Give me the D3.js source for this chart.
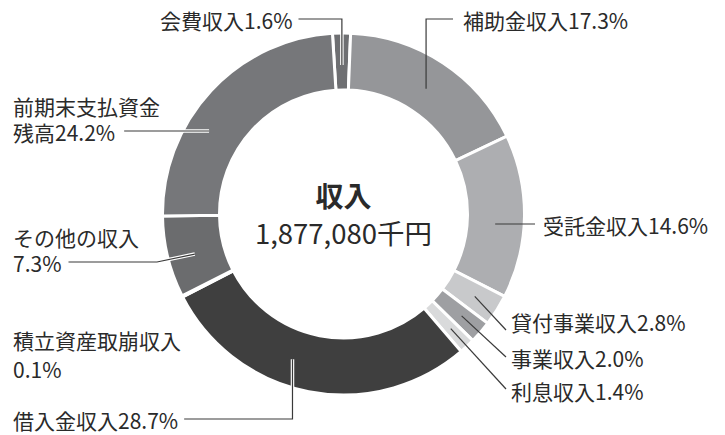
<!DOCTYPE html>
<html lang="ja">
    <head>
        <meta charset="utf-8">
        <title>収入</title>
        <script type="text/javascript" src="https://cdn.jsdelivr.net/npm/d3@7"></script>
        <style type="text/css">
            body { margin: 0; background: #fff; }
            text { font-family: "Noto Sans CJK JP", "Noto Sans", sans-serif; fill: #2a2a2a; }
        </style>
    </head>
    <body>
        <script type="text/javascript">
            var w = 725;
            var h = 435;

            // Data (clockwise from top)
            var names = ["会費収入", "補助金収入", "受託金収入", "貸付事業収入", "事業収入",
                         "利息収入", "借入金収入", "積立資産取崩収入", "その他の収入", "前期末支払資金残高"];
            var shares = [1.6, 17.3, 14.6, 2.8, 2.0, 1.4, 28.7, 0.1, 7.3, 24.2];
            var colors = ["#6e6f72", "#959699", "#adaeb1", "#c8c9cb", "#9e9fa2",
                          "#d9dadb", "#3f3f3f", "#555555", "#6b6c6e", "#76777a"];
            var totalTitle = "収入";
            var totalValue = "1,877,080千円";

            var cx = 343.5, cy = 214;
            var outerR = 181, innerR = 124;
            var start = -3.5 * Math.PI / 180;

            var svg = d3.select("body")
                .append("svg")
                .attr("width", w)
                .attr("height", h);

            var pie = d3.pie()
                .sort(null)
                .value(function(d) { return d; })
                .startAngle(start)
                .endAngle(start + 2 * Math.PI);

            var arcs = pie(shares);

            var arc = d3.arc()
                .innerRadius(innerR)
                .outerRadius(outerR);

            var g = svg.append("g")
                .attr("transform", "translate(" + cx + "," + cy + ")");

            g.selectAll("path")
                .data(arcs)
                .enter()
                .append("path")
                .attr("d", arc)
                .attr("fill", function(d, i) { return colors[i]; })
                .attr("stroke", "#fff")
                .attr("stroke-width", 3);

            // centre text
            svg.append("text")
                .attr("x", cx)
                .attr("y", 207)
                .attr("text-anchor", "middle")
                .attr("font-size", "28px")
                .attr("font-weight", "bold")
                .text(totalTitle);
            svg.append("text")
                .attr("x", cx)
                .attr("y", 244)
                .attr("text-anchor", "middle")
                .attr("font-size", "27.5px")
                .text(totalValue);

            // point on the ring for slice i at fraction f and radius r
            function ringPoint(i, f, r) {
                var a = arcs[i].startAngle + f * (arcs[i].endAngle - arcs[i].startAngle);
                return [cx + r * Math.sin(a), cy - r * Math.cos(a)];
            }
            // x on ring circle of radius r at height y (side = +1 right, -1 left)
            function ringX(y, r, side) {
                var dy = y - cy;
                return cx + side * Math.sqrt(r * r - dy * dy);
            }

            // label layout: x, centre y of each text line, kind of leader
            var labels = [
                {i: 0, x: 160, ys: [21], lines: ["会費収入1.6%"], kind: "elbow", f: 0.5, r: 149, halo: true},
                {i: 1, x: 463, ys: [21], lines: ["補助金収入17.3%"], kind: "elbowR", f: 0.5, r: 150},
                {i: 2, x: 543, ys: [226], lines: ["受託金収入14.6%"], kind: "horizR", r: 152},
                {i: 3, x: 511, ys: [323], lines: ["貸付事業収入2.8%"], kind: "diag", f: 0.5, r: 155, dy: 7},
                {i: 4, x: 511, ys: [359], lines: ["事業収入2.0%"], kind: "diag", f: 0.5, r: 156, dy: -2},
                {i: 5, x: 511, ys: [392], lines: ["利息収入1.4%"], kind: "diag", f: 0.5, r: 157, dy: -3},
                {i: 6, x: 13, ys: [421], lines: ["借入金収入28.7%"], kind: "elbow", f: 0.58, r: 154, halo: true},
                {i: 7, x: 13, ys: [341, 370], lines: ["積立資産取崩収入", "0.1%"], kind: "none"},
                {i: 8, x: 13, ys: [238, 264], lines: ["その他の収入", "7.3%"], kind: "bend", f: 0.45, r: 154, halo: true},
                {i: 9, x: 13, ys: [107, 133], lines: ["前期末支払資金", "残高24.2%"], kind: "horizL", r: 158, halo: true}
            ];

            var lineLayer = svg.append("g");
            var textLayer = svg.append("g");

            labels.forEach(function(lb) {
                var lastEnd = lb.x;
                lb.lines.forEach(function(s, k) {
                    var t = textLayer.append("text")
                        .attr("x", lb.x)
                        .attr("y", lb.ys[k])
                        .attr("dy", "0.36em")
                        .attr("font-size", "21px")
                        .text(s);
                    lastEnd = lb.x + t.node().getComputedTextLength();
                });
                var ly = lb.ys[lb.ys.length - 1] - 2;
                var pts = null;
                if (lb.kind === "elbow") {
                    var p = ringPoint(lb.i, lb.f, lb.r);
                    pts = [[lastEnd + 6, ly], [p[0], ly], p];
                } else if (lb.kind === "elbowR") {
                    var p = ringPoint(lb.i, lb.f, lb.r);
                    pts = [[lb.x - 10, ly], [p[0], ly], p];
                } else if (lb.kind === "horizR") {
                    pts = [[lb.x - 8, ly], [ringX(ly, lb.r, 1), ly]];
                } else if (lb.kind === "horizL") {
                    pts = [[lastEnd + 9, ly], [ringX(ly, lb.r, -1), ly]];
                } else if (lb.kind === "diag") {
                    var p = ringPoint(lb.i, lb.f, lb.r);
                    pts = [p, [lb.x - 5, lb.ys[0] + lb.dy]];
                } else if (lb.kind === "bend") {
                    var p = ringPoint(lb.i, lb.f, lb.r);
                    pts = [[lastEnd + 7, ly], [157, ly], p];
                }
                if (!pts) return;
                var line = d3.line();
                if (lb.halo) {
                    lineLayer.append("path")
                        .attr("d", line(pts))
                        .attr("fill", "none")
                        .attr("stroke", "#fff")
                        .attr("stroke-width", 3.5);
                }
                lineLayer.append("path")
                    .attr("d", line(pts))
                    .attr("fill", "none")
                    .attr("stroke", "#3a3a3a")
                    .attr("stroke-width", 1.2);
            });
        </script>
    </body>
</html>
